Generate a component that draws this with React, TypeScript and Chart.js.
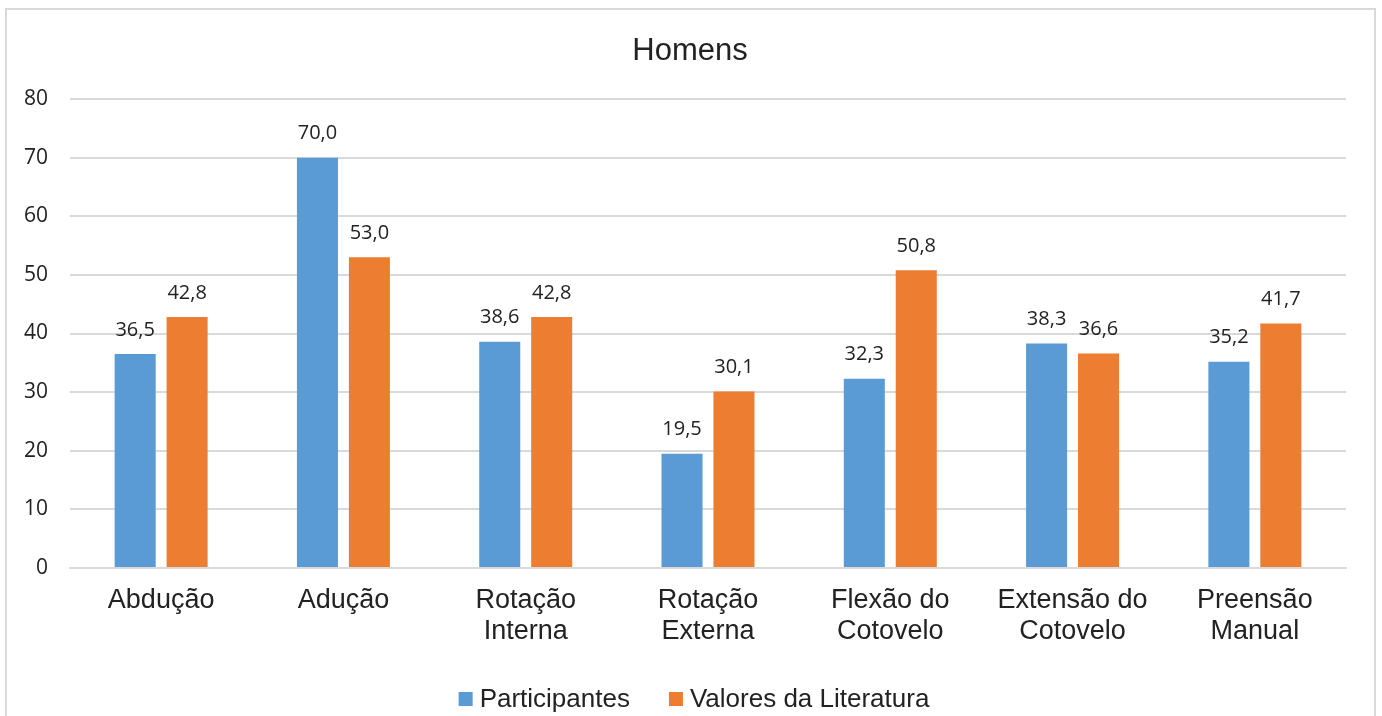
import { useEffect, useRef } from "react";
import { Chart, registerables } from "chart.js";

Chart.register(...registerables);

const chartTitle = "Homens";
const categories = [
  ["Abdução"],
  ["Adução"],
  ["Rotação", "Interna"],
  ["Rotação", "Externa"],
  ["Flexão do", "Cotovelo"],
  ["Extensão do", "Cotovelo"],
  ["Preensão", "Manual"],
];
const seriesNames = ["Participantes", "Valores da Literatura"];
const participantes = [36.5, 70.0, 38.6, 19.5, 32.3, 38.3, 35.2];
const literatura = [42.8, 53.0, 42.8, 30.1, 50.8, 36.6, 41.7];
const seriesColors = ["#5B9BD5", "#ED7D31"];
const yTicks = [0, 10, 20, 30, 40, 50, 60, 70, 80];

const W = 1382;
const H = 716;
const TEXT = "#222222";
const GRID = "#d9d9d9";

const fmt = (v: number) => v.toFixed(1).replace(".", ",");

// Outer frame, title, value labels and legend drawn onto the chart canvas
const decorations = {
  id: "decorations",
  beforeDraw(chart: any) {
    const ctx = chart.ctx;
    ctx.save();
    ctx.fillStyle = "#ffffff";
    ctx.fillRect(0, 0, W, H);
    ctx.strokeStyle = GRID;
    ctx.lineWidth = 2;
    ctx.strokeRect(6, 9, 1369, 740);
    ctx.restore();
  },
  afterDraw(chart: any) {
    const ctx = chart.ctx;
    ctx.save();

    // title
    ctx.fillStyle = TEXT;
    ctx.font = "31px 'Liberation Sans', Arial, sans-serif";
    ctx.textAlign = "center";
    ctx.textBaseline = "alphabetic";
    ctx.fillText(chartTitle, 690, 60);

    // value labels above bars
    ctx.font = "20px 'Open Sans', sans-serif";
    chart.data.datasets.forEach((ds: any, di: number) => {
      const meta = chart.getDatasetMeta(di);
      meta.data.forEach((bar: any, i: number) => {
        ctx.fillText(fmt(ds.data[i]), bar.x, bar.y - 18.5);
      });
    });

    // legend
    ctx.font = "26px 'Liberation Sans', Arial, sans-serif";
    ctx.textAlign = "left";
    const box = 14;
    const gap = 7;
    const spacing = 39;
    const widths = seriesNames.map((n) => ctx.measureText(n).width);
    const total =
      widths.reduce((a, b) => a + b, 0) + seriesNames.length * (box + gap) + spacing * (seriesNames.length - 1);
    let x = 694 - total / 2;
    const baseline = 707;
    seriesNames.forEach((name, i) => {
      ctx.fillStyle = seriesColors[i];
      ctx.fillRect(x, 692, box, box);
      x += box + gap;
      ctx.fillStyle = TEXT;
      ctx.fillText(name, x, baseline);
      x += widths[i] + spacing;
    });

    ctx.restore();
  },
};

export default function App() {
  const canvasRef = useRef<HTMLCanvasElement | null>(null);

  useEffect(() => {
    if (!canvasRef.current) return;
    const chart = new Chart(canvasRef.current, {
      type: "bar",
      data: {
        labels: categories,
        datasets: [
          {
            label: seriesNames[0],
            data: participantes,
            backgroundColor: seriesColors[0],
            categoryPercentage: 0.57,
            barPercentage: 0.79,
          },
          {
            label: seriesNames[1],
            data: literatura,
            backgroundColor: seriesColors[1],
            categoryPercentage: 0.57,
            barPercentage: 0.79,
          },
        ],
      },
      options: {
        responsive: false,
        animation: false,
        devicePixelRatio: 1,
        layout: { padding: { top: 99, right: 36, bottom: 0, left: 0 } },
        plugins: {
          legend: { display: false },
          title: { display: false },
          tooltip: { enabled: false },
        },
        scales: {
          x: {
            grid: { display: false, drawTicks: false },
            border: { display: true, color: GRID, width: 2 },
            ticks: {
              color: TEXT,
              font: { family: "'Liberation Sans', Arial, sans-serif", size: 27, lineHeight: 1.15 },
              padding: 17,
              autoSkip: false,
              maxRotation: 0,
              minRotation: 0,
            },
            afterFit: (scale: any) => {
              scale.height = 148;
            },
          },
          y: {
            min: 0,
            max: 80,
            grid: { color: GRID, lineWidth: 2, drawTicks: false },
            border: { display: false },
            ticks: {
              color: TEXT,
              font: { family: "'Open Sans', sans-serif", size: 21 },
              padding: 22,
            },
            afterBuildTicks: (scale: any) => {
              scale.ticks = yTicks.map((v) => ({ value: v }));
            },
            afterFit: (scale: any) => {
              scale.width = 70;
            },
          },
        },
      },
      plugins: [decorations],
    });
    return () => chart.destroy();
  }, []);

  return (
    <div style={{ position: "fixed", left: 0, top: 0, width: W, height: H, background: "#fff" }}>
      <canvas ref={canvasRef} width={W} height={H} style={{ display: "block" }} />
    </div>
  );
}
